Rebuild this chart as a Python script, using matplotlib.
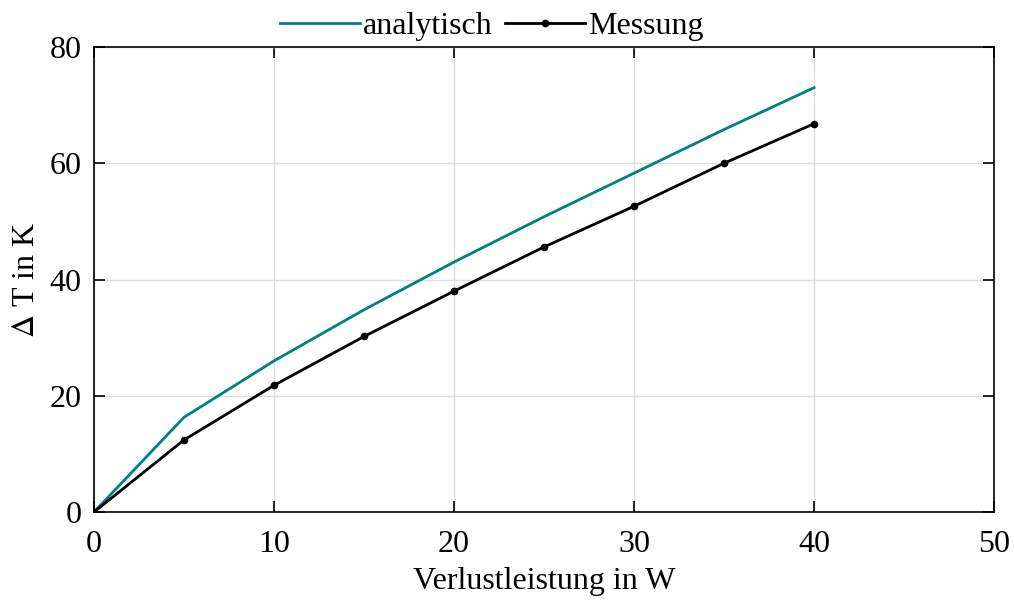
import matplotlib
matplotlib.use('Agg')
import matplotlib.pyplot as plt

# Verlustleistung in W
leistung = [0, 5, 10, 15, 20, 25, 30, 35, 40]
# Temperaturdifferenz in K
dT_analytisch = [0, 16.3, 26.0, 34.8, 43.0, 50.8, 58.3, 65.8, 73.0]
dT_messung = [0, 12.4, 21.8, 30.2, 38.0, 45.6, 52.6, 60.0, 66.8]

plt.rcParams['font.family'] = ['Liberation Serif', 'DejaVu Serif']
plt.rcParams['mathtext.fontset'] = 'stix'

fig = plt.figure(figsize=(10.14, 6.01), dpi=100)
ax = fig.add_axes([0.0927, 0.148, 0.8876, 0.7738])

ax.plot(leistung, dT_analytisch, '-', color='#008080', lw=2, label='analytisch')
ax.plot(leistung, dT_messung, '.-', color='black', lw=2, ms=9, label='Messung')

ax.set_xlim(0, 50)
ax.set_ylim(0, 80)
ax.set_xticks([0, 10, 20, 30, 40, 50])
ax.set_yticks([0, 20, 40, 60, 80])
ax.grid(True, color='#dddddd', lw=1)
ax.set_axisbelow(True)
ax.tick_params(direction='in', top=True, right=True, length=8, width=1.2, labelsize=23)
ax.tick_params(axis='x', pad=13)
ax.tick_params(axis='y', pad=9)
for s in ax.spines.values():
    s.set_linewidth(1.2)

ax.set_xlabel('Verlustleistung in W', fontsize=23, labelpad=6)
ax.set_ylabel(r'$\Delta$ T in K', fontsize=23, labelpad=6)

ax.legend(loc='lower center', bbox_to_anchor=(0.442, 0.985), ncol=2, frameon=False,
          fontsize=23, handlelength=2.5, handletextpad=0.1, columnspacing=0.4, borderaxespad=0)

fig.savefig('out.png', dpi=100)
